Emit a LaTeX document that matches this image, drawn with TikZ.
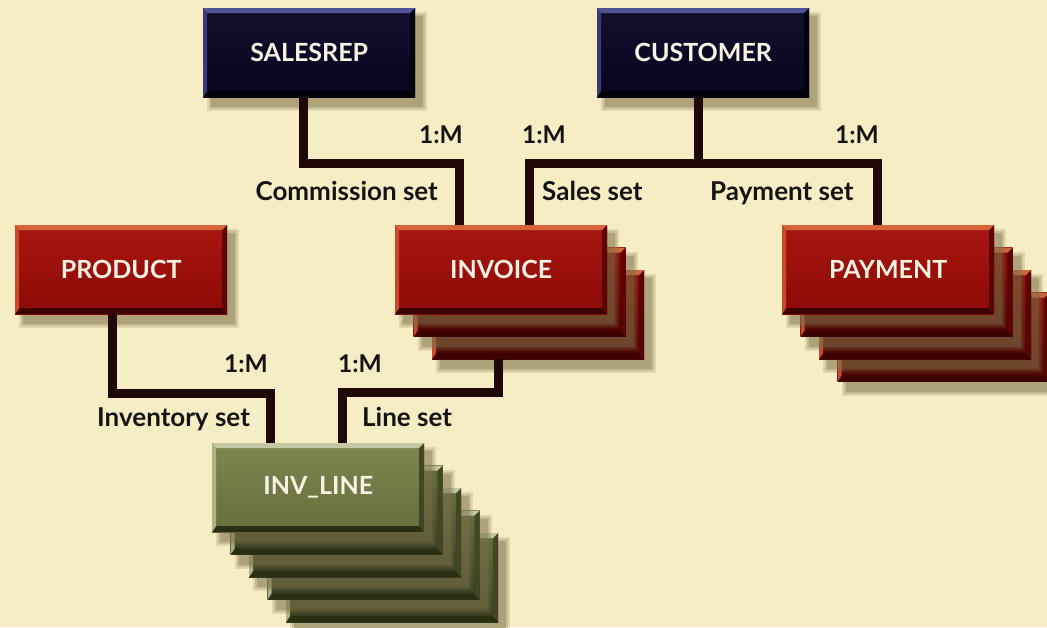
\documentclass[tikz,border=0pt]{standalone}
\usepackage{fontspec}
\setmainfont{Lato}
\usetikzlibrary{calc}

\definecolor{bg}{RGB}{247,237,196}
\definecolor{conncol}{RGB}{32,8,6}
\definecolor{shadowc}{RGB}{125,114,74}
\definecolor{cardtext}{RGB}{250,242,228}
% card colours: base, highlight, dark edge
\definecolor{cred}{RGB}{164,12,6}
\definecolor{credhi}{RGB}{214,100,58}
\definecolor{creddk}{RGB}{60,0,0}
\definecolor{cnavy}{RGB}{8,6,36}
\definecolor{cnavyhi}{RGB}{80,80,150}
\definecolor{cnavydk}{RGB}{0,0,8}
\definecolor{colive}{RGB}{120,128,72}
\definecolor{colivehi}{RGB}{196,200,165}
\definecolor{colivedk}{RGB}{42,46,18}

\newcommand\ppb{path picture bounding box}

\tikzset{
  card/.style={
    minimum width=212pt, minimum height=89pt, inner sep=0pt, anchor=north west,
    font=\fontsize{25}{30}\selectfont\bfseries, text=cardtext,
    top color=#1!96!white, bottom color=#1!86!black,
    path picture={
      % bevelled rim: light along top and left, dark along bottom and right
      \fill[#1hi] (\ppb.north west) -- (\ppb.north east) -- ([shift={(-5pt,-5pt)}]\ppb.north east)
                  -- ([shift={(4pt,-5pt)}]\ppb.north west) -- cycle;
      \fill[#1hi!70!#1] (\ppb.north west) -- ([shift={(4pt,-5pt)}]\ppb.north west)
                  -- ([shift={(4pt,5pt)}]\ppb.south west) -- (\ppb.south west) -- cycle;
      \fill[#1dk] (\ppb.south west) -- ([shift={(4pt,6pt)}]\ppb.south west)
                  -- ([shift={(-5pt,6pt)}]\ppb.south east) -- (\ppb.south east) -- cycle;
      \fill[#1dk!70!#1] (\ppb.north east) -- ([shift={(-5pt,-5pt)}]\ppb.north east)
                  -- ([shift={(-5pt,6pt)}]\ppb.south east) -- (\ppb.south east) -- cycle;
    }},
  backcard/.style={card=#1, top color=#1!85!black, bottom color=#1!45!black},
  conn/.style={draw=conncol, line width=9pt, line cap=butt, line join=miter},
  lbl/.style={font=\fontsize{26}{30}\selectfont\bfseries, text=black!92, inner sep=0pt},
  card1m/.style={font=\fontsize{24.5}{28}\selectfont\bfseries, text=black!92, inner sep=0pt},
}

% soft drop shadow under a card whose top-left corner is (#1,#2)
\newcommand\cardshadow[2]{%
  \fill[shadowc, opacity=.18] (#1+4,#2+4) rectangle (#1+224,#2+103);
  \fill[shadowc, opacity=.25] (#1+6,#2+6) rectangle (#1+222,#2+101);
  \fill[shadowc, opacity=.35] (#1+8,#2+8) rectangle (#1+220,#2+99);
}
% a card with its shadow
\newcommand\cardnode[5]{% name, x, y, style, text
  \cardshadow{#2}{#3}
  \node[#4] (#1) at (#2,#3) {#5};
}

\begin{document}
\begin{tikzpicture}[x=1pt,y=-1pt]
  \fill[bg] (0,0) rectangle (1047,627);
  \useasboundingbox (0,0) rectangle (1047,627);

  % top row
  \cardnode{salesrep}{203}{8}{card=cnavy}{SALESREP}
  \cardnode{customer}{597}{8}{card=cnavy}{CUSTOMER}

  % middle row
  \cardnode{product}{15}{225}{card=cred}{PRODUCT}

  \cardnode{invoice3}{432}{270}{backcard=cred}{}
  \cardnode{invoice2}{413.5}{247.5}{backcard=cred}{}
  \cardnode{invoice}{395}{225}{card=cred}{INVOICE}

  \cardnode{payment4}{837.5}{292.5}{backcard=cred}{}
  \cardnode{payment3}{819}{270}{backcard=cred}{}
  \cardnode{payment2}{800.5}{247.5}{backcard=cred}{}
  \cardnode{payment}{782}{225}{card=cred}{PAYMENT}

  % bottom stack
  \cardnode{invline5}{286}{533}{backcard=colive}{}
  \cardnode{invline4}{267.5}{510.5}{backcard=colive}{}
  \cardnode{invline3}{249}{488}{backcard=colive}{}
  \cardnode{invline2}{230.5}{465.5}{backcard=colive}{}
  \cardnode{invline}{212}{443}{card=colive}{INV\_LINE}

  % set connectors
  \draw[conn] ([xshift=-6pt]salesrep.south) -- ++(0,66) -| ([xshift=-41.5pt]invoice.north);
  \draw[conn] ([xshift=-4.5pt]customer.south) -- ++(0,66) coordinate (cjoin);
  \draw[conn] ([xshift=28.5pt]invoice.north) |- (cjoin) -| ([xshift=-10.5pt]payment.north);
  \draw[conn] ([xshift=-8.5pt]product.south) -- ++(0,79) -| ([xshift=-47.5pt]invline.north);
  \draw[conn] ([xshift=-39.5pt]invoice3.south) -- ++(0,33) -| ([xshift=24.5pt]invline.north);

  % cardinalities
  \node[card1m, anchor=base east] (c1) at (463,143) {1:M};
  \node[card1m, anchor=base west] (c2) at (522,143) {1:M};
  \node[card1m, anchor=base east] (c3) at (879,143) {1:M};
  \node[card1m, anchor=base east] (c4) at (268,372) {1:M};
  \node[card1m, anchor=base west] (c5) at (338,372) {1:M};

  % set names
  \node[lbl, anchor=base east] (s1) at (438,200) {Commission set};
  \node[lbl, anchor=base west] (s2) at (542,200) {Sales set};
  \node[lbl, anchor=base west] (s3) at (710,200) {Payment set};
  \node[lbl, anchor=base west] (s4) at (97,426) {Inventory set};
  \node[lbl, anchor=base west] (s5) at (362,426) {Line set};
\end{tikzpicture}
\end{document}
